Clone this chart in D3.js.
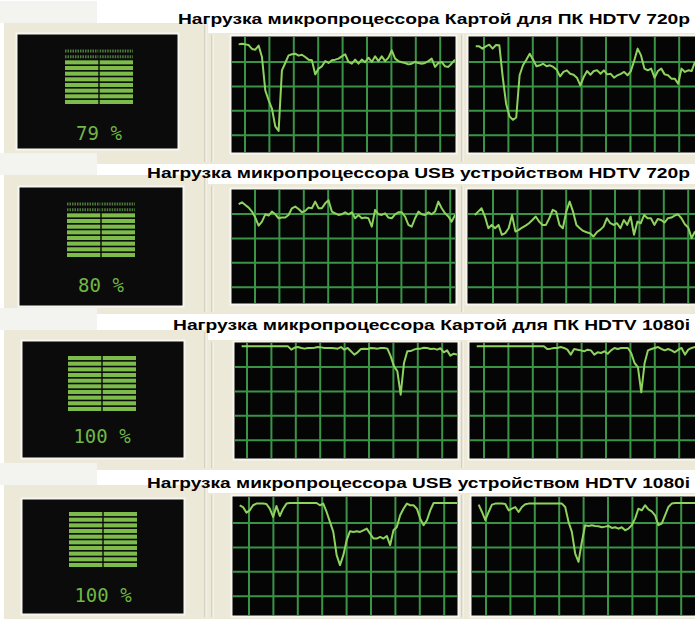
<!DOCTYPE html>
<html>
<head>
<meta charset="utf-8">
<script src="https://cdn.jsdelivr.net/npm/d3@7"></script>
<style>
  body { margin: 0; background: #fff; }
  svg { display: block; }
</style>
</head>
<body>
<div id="chart"></div>
<script>
// Titles and gauge readings, one per row
const titles = [
    "Нагрузка микропроцессора Картой для ПК HDTV 720p",
    "Нагрузка микропроцессора USB устройством HDTV 720p",
    "Нагрузка микропроцессора Картой для ПК HDTV 1080i",
    "Нагрузка микропроцессора USB устройством HDTV 1080i"
];
const cpuUsage = [79, 80, 100, 100];

// CPU history, % per sample (null = no history yet)
const pcCard720Left = [null, null, 93.6, 94.2, 93.6, 93, 89.6, 89, 92.5, 82.6,
    53.6, 45, 37.7, 22.3, 18.3, 71, 77.4, 84, 85, 85.5,
    83.8, 84.6, 82.6, 80.3, 79.7, 67.5, 72.5, 74.5, 79, 77.4,
    79.7, 80.3, 81.2, 83.2, 85, 78.3, 76.8, 80.3, 76.8, 80.3,
    78, 82, 78.3, 83.2, 79, 83.2, 79, 82, 88.4, 81.2,
    79, 78, 77.4, 76.2, 76.8, 78.3, 77.4, 76.8, 77.4, 79,
    81.2, 74, 77.4, 78.3, 74.5, 74, 77, 80.3];
const pcCard720Right = [null, null, 91.9, 91.9, 89.9, 91.9, 93.3, 89.9, 93, 92.8,
    65.2, 42, 31, 28, 30, 66.7, 75.4, 80.3, 85.5, 80.3,
    74.5, 75.4, 76.8, 74.5, 75.4, 74, 71.6, 65.8, 69.6, 71,
    68, 67.2, 64.6, 58, 65.2, 70.4, 67.2, 70.4, 71, 68,
    71, 67.5, 68, 64.6, 66.7, 68, 69.6, 66.7, 70.4, 79.7,
    89.9, 84, 72.5, 71, 72.5, 64.6, 70.4, 72.5, 67.5, 66.7,
    63.8, 63.8, 59.4, 72.5, 69.6, 71, 70.4, 78.3];
const usb720Left = [null, null, 87.4, 89.1, 86.8, 84.4, 80.9, 75.6, 68.5, 72,
    78.5, 77.4, 80.9, 78.5, 75, 75.6, 75.6, 77.9, 83.8, 85.3,
    83.2, 80.3, 81.5, 84.4, 83.8, 89.7, 83.8, 83.8, 88.2, 90.9,
    80.9, 79.4, 77.9, 78.5, 80.3, 78.5, 80.3, 75, 77.9, 75,
    75.6, 75, 67.6, 82.4, 78.5, 77.9, 79.4, 75.6, 75, 78.5,
    80.3, 80.3, 76.5, 69.1, 67.6, 75, 80.9, 78.5, 77.9, 80.3,
    78.5, 80.9, 89.7, 83.8, 79.4, 76.5, 72, 77.9];
const usb720Right = [null, null, 77.9, 80.9, 83.8, 76.5, 66.2, 69.1, 66.2, 69.1,
    60.3, 61.8, 66.2, 77.9, 63.2, 64.7, 66.8, 68.5, 70.6, 73.5,
    76.5, 72, 69.1, 69.1, 75, 82.4, 80.9, 69.1, 66.2, 80.9,
    89.7, 80.9, 69.1, 66.2, 63.8, 62.6, 61.8, 58.8, 62.6, 64.7,
    67.6, 75, 70.6, 69.1, 70.6, 66.2, 73.5, 69.1, 76.5, 60.3,
    72, 70.6, 77.9, 75, 75, 69.1, 74.4, 73.5, 71.2, 75,
    75.6, 77.4, 78.5, 75, 69.7, 66.8, 57.4, 63.2];
const pcCard1080Left = [null, null, 97.1, 97.1, 97.1, 97.1, 97.1, 97.1, 97.1, 97.1,
    97.1, 97.1, 97.1, 97.1, 97.1, 97.1, 97.1, 94.2, 95.9, 96.5,
    95.7, 95.1, 95.7, 95.7, 95.9, 96.5, 96.2, 95.7, 95.7, 95.7,
    95.4, 95.1, 96.5, 94.2, 95.7, 92.8, 89.9, 91.9, 94.8, 95.1,
    94.8, 95.7, 95.4, 95.1, 95.7, 95.7, 95.1, 88.4, 79.7, 75.4,
    55.1, 82.6, 92.8, 93, 94.2, 95.1, 95.1, 95.9, 95.7, 94.8,
    95.1, 94.2, 95.4, 91.9, 93.6, 89, 90.7, 89.9];
const pcCard1080Right = [null, null, 97.1, 97.1, 97.1, 97.1, 97.1, 97.1, 97.1, 97.1,
    97.1, 97.1, 97.1, 97.1, 97.1, 97.1, 97.1, 97.1, 97.1, 97.1,
    97.1, 97.1, 97.1, 94.8, 95.1, 95.7, 95.7, 96.5, 95.7, 94.2,
    89.9, 94.8, 94.2, 93.6, 92.8, 94.2, 93.6, 89.9, 91.9, 91.3,
    92.8, 90.7, 93.6, 95.7, 94.8, 95.7, 95.7, 95.7, 91.3, 82.6,
    79.1, 57.1, 82.6, 93.6, 94.8, 95.7, 96.5, 94.8, 93.6, 94.8,
    93.6, 91.9, 94.2, 95.7, 89.9, 94.2, 95.7, 96.5];
const usb1080Left = [null, null, 93, 91.5, 86.8, 88.7, 93, 94.4, 94.4, 94.4,
    94.1, 90.1, 83.1, 92.4, 83.9, 90.1, 94.4, 94.9, 94.9, 94.9,
    94.9, 94.9, 94.9, 94.9, 94.9, 94.9, 93, 94.4, 87.3, 78.9,
    70.4, 50.7, 42.3, 50.7, 63.4, 71, 70.4, 71, 70.4, 71.8,
    73.2, 69, 64.8, 64.8, 66.2, 64.8, 67, 59.2, 71.8, 74.6,
    84.5, 90.1, 94.4, 93, 93, 90.1, 81.7, 76.1, 80.3, 88.7,
    94.9, 94.9, 94.9, 94.9, 94.9, 94.9, 94.9, 94.9];
const usb1080Right = [null, null, 93.5, 87.3, 80.3, 87.3, 93.5, 94.4, 94.4, 94.4,
    94.1, 88.7, 90.1, 91.5, 87.3, 91.5, 93.8, 94.4, 94.4, 94.4,
    94.4, 94.4, 94.4, 94.4, 94.4, 94.4, 94.4, 94.4, 91.5, 78.9,
    70.4, 52.1, 45.1, 62, 76.1, 75.5, 76.1, 75.5, 75.2, 74.4,
    74.9, 75.5, 73.8, 74.4, 73.2, 74.4, 71.8, 73.2, 76.1, 81.7,
    90.1, 88.7, 93, 89.6, 87.9, 84.5, 76.1, 77.5, 84.5, 91.5,
    94.4, 94.9, 94.9, 94.9, 94.9, 94.9, 94.9, 94.9];

const histories = [
    [pcCard720Left, pcCard720Right],
    [usb720Left, usb720Right],
    [pcCard1080Left, pcCard1080Right],
    [usb1080Left, usb1080Right]
];

// Layout of the four screenshot rows
const W = 695, H = 619;
const GRID = 24.4;
const STRIPES = 10;
const rows = [
    { titleY: 24, titleX: 178, gaugePanel: [23, 164], graphPanel: [33, 164],
      gauge: { x: 18, y: 35, w: 159, h: 113, barX: 65, barY: 49, textY: 140 },
      graphs: [{ x0: 232, x1: 455, y0: 37, y1: 152, gx: 245, gy: 62 },
               { x0: 469, x1: 695, y0: 37, y1: 152, gx: 484, gy: 62 }] },
    { titleY: 178, titleX: 147, gaugePanel: [175, 314], graphPanel: [184, 314],
      gauge: { x: 20, y: 188, w: 162, h: 117, barX: 67, barY: 202, textY: 292 },
      graphs: [{ x0: 232, x1: 455, y0: 190, y1: 303, gx: 255, gy: 214 },
               { x0: 468, x1: 695, y0: 190, y1: 303, gx: 493, gy: 214 }] },
    { titleY: 330, titleX: 173, gaugePanel: [330, 470], graphPanel: [340, 470],
      gauge: { x: 23, y: 342, w: 160, h: 115, barX: 68, barY: 356, textY: 443 },
      graphs: [{ x0: 235, x1: 457, y0: 343, y1: 458, gx: 247, gy: 367 },
               { x0: 470, x1: 695, y0: 343, y1: 458, gx: 484, gy: 367 }] },
    { titleY: 488, titleX: 147, gaugePanel: [485, 619], graphPanel: [493, 619],
      gauge: { x: 23, y: 500, w: 160, h: 113, barX: 69, barY: 512, textY: 602 },
      graphs: [{ x0: 233, x1: 457, y0: 497, y1: 615, gx: 249, gy: 523 },
               { x0: 472, x1: 695, y0: 497, y1: 615, gx: 486, gy: 523 }] }
];

const svg = d3.select("#chart").append("svg")
    .attr("width", W)
    .attr("height", H);

svg.append("rect").attr("width", W).attr("height", H).attr("fill", "#fff");

rows.forEach((row, r) => {
    const g = svg.append("g").attr("class", "row");

    // light strip left of the title band
    g.append("rect")
        .attr("x", 0).attr("y", row.gaugePanel[0] - 22)
        .attr("width", 97).attr("height", 22)
        .attr("fill", "#f3f3ef");

    // beige window panels
    g.append("rect")
        .attr("x", 4).attr("y", row.gaugePanel[0])
        .attr("width", 204).attr("height", row.gaugePanel[1] - row.gaugePanel[0])
        .attr("fill", "#ece9d8");
    g.append("rect")
        .attr("x", 208).attr("y", row.graphPanel[0])
        .attr("width", W - 208).attr("height", row.graphPanel[1] - row.graphPanel[0])
        .attr("fill", "#ece9d8");

    // etched separators
    [205, 212, 462].forEach(sx => {
        const top = sx < 208 ? row.gaugePanel[0] : row.graphPanel[0];
        g.append("line")
            .attr("x1", sx).attr("x2", sx)
            .attr("y1", top + 2).attr("y2", row.gaugePanel[1] - 2)
            .attr("stroke", "#bdb9a6").attr("stroke-width", 1);
        g.append("line")
            .attr("x1", sx + 1).attr("x2", sx + 1)
            .attr("y1", top + 2).attr("y2", row.gaugePanel[1] - 2)
            .attr("stroke", "#fbfaf4").attr("stroke-width", 1);
    });

    // title, stretched like the reference lettering
    g.append("text")
        .attr("x", row.titleX)
        .attr("y", row.titleY)
        .attr("textLength", 690 - row.titleX)
        .attr("lengthAdjust", "spacingAndGlyphs")
        .style("font-family", "'Liberation Sans', Arial, sans-serif")
        .style("font-weight", "bold")
        .style("font-size", "15px")
        .attr("fill", "#000")
        .text(titles[r]);

    // gauge
    const ga = row.gauge;
    g.append("rect")
        .attr("x", ga.x - 1.5).attr("y", ga.y - 1.5)
        .attr("width", ga.w + 3).attr("height", ga.h + 3)
        .attr("fill", "#0b0b0b")
        .attr("stroke", "#f7f6f0").attr("stroke-width", 2);

    const yBand = d3.scaleBand()
        .domain(d3.range(STRIPES))
        .range([ga.barY + 55, ga.barY])
        .paddingInner(0.28);
    const xCol = d3.scaleBand()
        .domain([0, 1])
        .range([ga.barX, ga.barX + 68])
        .paddingInner(0.04);
    const lit = Math.round(cpuUsage[r] / (100 / STRIPES));
    const cells = d3.cross(d3.range(STRIPES), [0, 1]);

    g.selectAll(".lit")
        .data(cells.filter(d => d[0] < lit))
        .enter().append("rect")
        .attr("x", d => xCol(d[1]))
        .attr("y", d => yBand(d[0]))
        .attr("width", xCol.bandwidth())
        .attr("height", yBand.bandwidth())
        .attr("fill", "#7dbb4b");

    g.selectAll(".dim")
        .data(cells.filter(d => d[0] >= lit))
        .enter().append("line")
        .attr("x1", d => xCol(d[1]))
        .attr("x2", d => xCol(d[1]) + xCol.bandwidth())
        .attr("y1", d => yBand(d[0]) + yBand.bandwidth() / 2)
        .attr("y2", d => yBand(d[0]) + yBand.bandwidth() / 2)
        .attr("stroke", "#4d7a3c")
        .attr("stroke-width", 3)
        .attr("stroke-dasharray", "1.5,1");

    g.append("text")
        .attr("x", ga.barX + 34)
        .attr("y", ga.textY)
        .attr("text-anchor", "middle")
        .style("font-family", "'DejaVu Sans Mono', monospace")
        .style("font-size", "19px")
        .attr("fill", "#6fb843")
        .text(cpuUsage[r] + " %");

    // two CPU history graphs
    row.graphs.forEach((gr, k) => {
        const values = histories[r][k];
        g.append("rect")
            .attr("x", gr.x0 - 1.5).attr("y", gr.y0 - 1.5)
            .attr("width", gr.x1 - gr.x0 + 3).attr("height", gr.y1 - gr.y0 + 3)
            .attr("fill", "#050505")
            .attr("stroke", "#f7f6f0").attr("stroke-width", 2);

        const clipId = `clip-${r}-${k}`;
        g.append("clipPath").attr("id", clipId)
            .append("rect")
            .attr("x", gr.x0).attr("y", gr.y0)
            .attr("width", gr.x1 - gr.x0).attr("height", gr.y1 - gr.y0);

        const plot = g.append("g").attr("clip-path", `url(#${clipId})`);

        const xs = d3.range(gr.gx, gr.x1, GRID);
        const ys = d3.range(gr.gy - GRID * Math.floor((gr.gy - gr.y0) / GRID), gr.y1, GRID)
            .filter(v => v > gr.y0 + 2);

        plot.selectAll(".vgrid").data(xs).enter().append("line")
            .attr("x1", d => d).attr("x2", d => d)
            .attr("y1", gr.y0).attr("y2", gr.y1)
            .attr("stroke", "#3a9446").attr("stroke-width", 2);
        plot.selectAll(".hgrid").data(ys).enter().append("line")
            .attr("x1", gr.x0).attr("x2", gr.x1)
            .attr("y1", d => d).attr("y2", d => d)
            .attr("stroke", "#3a9446").attr("stroke-width", 2);

        const x = d3.scaleLinear().domain([0, values.length - 1]).range([gr.x0, gr.x1]);
        const y = d3.scaleLinear().domain([0, 100]).range([gr.y1, gr.y0]);

        const line = d3.line()
            .defined(d => d != null)
            .x((d, i) => x(i))
            .y(d => y(d));

        plot.append("path")
            .datum(values)
            .attr("fill", "none")
            .attr("stroke", "#8fd35f")
            .attr("stroke-width", 2)
            .attr("stroke-linejoin", "round")
            .attr("d", line);
    });
});
</script>
</body>
</html>
